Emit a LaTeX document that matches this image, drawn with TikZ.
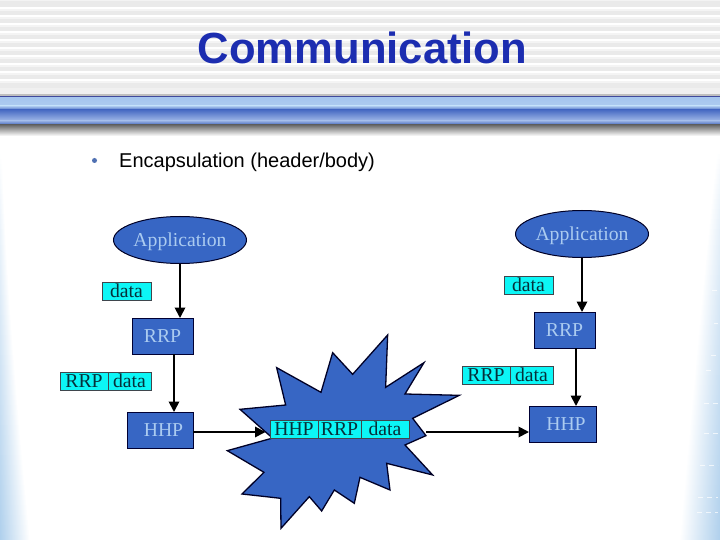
\documentclass[tikz,border=0pt]{standalone}
\usepackage{fontspec}
\setmainfont{Liberation Serif}
\newfontfamily\dgsans{Liberation Sans}
\usetikzlibrary{shapes.geometric,arrows.meta}
\definecolor{titleblue}{HTML}{1C2DB0}
\definecolor{nodeblue}{HTML}{3766C4}
\definecolor{nodetext}{HTML}{ABCBF0}
\definecolor{cellcyan}{HTML}{0CF6F6}
\definecolor{celltext}{HTML}{06303A}
\definecolor{sideblue}{HTML}{AECFEC}
\definecolor{stripe}{HTML}{EAEAEA}
\definecolor{barline}{HTML}{404A9C}
\definecolor{barlight}{HTML}{A6C6EE}
\definecolor{barpale}{HTML}{ADCBF0}
\definecolor{barmid}{HTML}{496CC4}
\definecolor{barsoft}{HTML}{9DB6E6}
\definecolor{bardeep}{HTML}{4265BA}
\definecolor{barshade}{HTML}{6A6A6A}
\definecolor{bulletblue}{HTML}{4F70B2}
\tikzset{
  appnode/.style={ellipse,draw=black!85!blue,line width=1pt,fill=nodeblue,text=nodetext,font=\fontsize{19.7}{22}\selectfont,inner sep=0pt,outer sep=0pt,minimum width=133pt,minimum height=47pt,text height=13pt,text depth=0pt},
  layerbox/.style={rectangle,draw=black!80!blue,line width=0.8pt,fill=nodeblue,text=nodetext,font=\fontsize{19.7}{22}\selectfont,inner sep=0pt,outer sep=0pt,minimum height=36pt},
  cell/.style={rectangle,draw=black!80!cyan,line width=0.6pt,fill=cellcyan,text=celltext,font=\fontsize{19.7}{22}\selectfont,inner sep=0pt,outer sep=0pt,minimum height=18pt,text height=13pt,text depth=0.5pt},
  flow/.style={draw=black,line width=1.8pt,-{Triangle[length=10.5pt,width=10.5pt]}},
}
\begin{document}
\begin{tikzpicture}[x=1pt,y=-1pt]
\useasboundingbox (0,0) rectangle (720,540);
\fill[white] (0,0) rectangle (720,540);
% side glow
\foreach \yy in {150,155,...,540}{
  \pgfmathsetmacro{\tv}{(\yy-150)/390}
  \pgfmathsetmacro{\wl}{2+28*\tv^1.4}
  \pgfmathsetmacro{\wr}{3+38*\tv^0.9}
  \pgfmathtruncatemacro{\ml}{100*\tv^0.9}
  \pgfmathtruncatemacro{\mr}{100*\tv^0.7}
  \shade[left color=sideblue!\ml!white,right color=white] (0,\yy) rectangle (\wl,\yy+6);
  \shade[left color=white,right color=sideblue!\mr!white] (720-\wr,\yy) rectangle (720,\yy+6);
}
\foreach \yy/\xa/\xb in {290/712/718,323/714/718,355/711/716,370/706/714,403/704/718,433/704/718,465/700/718,497/698/718,512/697/718}{
  \draw[white,opacity=0.7,line width=0.5pt,dash pattern=on 5pt off 4pt] (\xa,\yy) -- (\xb,\yy);
}
% header stripes
\fill[stripe] (0,0) rectangle (720,94);
\foreach \yy in {8,16,...,80}{
  \fill[white] (0,\yy-0.5) rectangle (720,\yy+0.7);
  \fill[stripe!55!white] (0,\yy+0.7) rectangle (720,\yy+3);
}
\fill[stripe!60!white] (0,0) rectangle (720,1);
\fill[stripe!70!white] (0,88) rectangle (720,94);
% blue bar
\fill[black!25] (0,94) rectangle (720,96);
\fill[barline] (0,95.8) rectangle (720,97.6);
\shade[top color=barlight,bottom color=barpale] (0,97.5) rectangle (720,106);
\shade[top color=barpale,bottom color=barmid] (0,106) rectangle (720,110);
\shade[top color=barmid,bottom color=barsoft] (0,110) rectangle (720,120.5);
\shade[top color=barsoft,bottom color=bardeep] (0,120.5) rectangle (720,125);
\shade[top color=barshade,bottom color=white] (0,125) rectangle (720,136);
% title and bullet
\node[font=\dgsans\bfseries\fontsize{43.6}{48}\selectfont,text=titleblue,anchor=base,inner sep=0pt] (title) at (362.5,64) {Communication};
\node[circle,fill=bulletblue,inner sep=0pt,minimum size=5pt] (bullet) at (94.5,160.5) {};
\node[font=\dgsans\fontsize{20}{24}\selectfont,text=black,anchor=base west,inner sep=0pt] (body) at (119,168) {Encapsulation (header/body)};
% connector into and out of the cloud
\coordinate (cloudin) at (265.5,432);
\coordinate (cloudout) at (426,432);
% left stack
\node[layerbox,minimum width=66pt] (hhpL) at (160,430) {\hspace*{7pt}HHP};
\draw[flow] (hhpL.east |- cloudin) -- (cloudin);
% cloud
\begin{scope}[shift={(220,320)},x=0.3333pt,y=-0.3333pt]
\draw[draw=black!85!blue,line width=1.3pt,fill=nodeblue,line join=miter]
 (503,45)--(497,202)--(612,128)--(555,222)--(718,226)--(578,295)--(618,347)--(555,375)--(638,465)--(500,430)--(510,510)--(420,472)--(403,550)--(343,510)--(305,573)--(268,530)--(183,625)--(182,535)--(66,522)--(132,457)--(22,392)--(155,355)--(155,352)--(60,268)--(197,255)--(170,143)--(303,217)--(338,98)--(398,163)--cycle;
\end{scope}
\node[appnode] (appL) at (180,240) {Application};
\node[layerbox,minimum width=61pt] (rrpL) at (162.5,336) {RRP};
\node[cell,minimum width=49pt] (dataL) at (126.5,291) {data};
\node[cell,minimum width=48pt] (hdrL) at (84,381) {RRP};
\node[cell,minimum width=43pt] (bodyL) at (129.5,381) {data};
\draw[flow] (appL.south) -- (appL.south |- rrpL.north);
\draw[flow] ([xshift=11.5pt]rrpL.south) -- ([xshift=14pt]hhpL.north);
% cloud label
\node[cell,minimum width=48pt] (hhpC) at (294,429) {HHP};
\node[cell,minimum width=43pt] (rrpC) at (339.5,429) {RRP};
\node[cell,minimum width=48pt] (dataC) at (385,429) {data};
% right stack
\node[appnode] (appR) at (582,234) {Application};
\node[layerbox,minimum width=61pt] (rrpR) at (564.5,330) {RRP};
\node[layerbox,minimum width=67pt] (hhpR) at (562.5,424) {\hspace*{7pt}HHP};
\node[cell,minimum width=49pt] (dataR) at (528.5,285.5) {data};
\node[cell,minimum width=48pt] (hdrR) at (486,375) {RRP};
\node[cell,minimum width=43pt] (bodyR) at (531.5,375) {data};
\draw[flow] (appR.south) -- (appR.south |- rrpR.north);
\draw[flow] ([xshift=11.5pt]rrpR.south) -- ([xshift=13.5pt]hhpR.north);
\draw[flow] (cloudout) -- (hhpR.west |- cloudout);
\end{tikzpicture}
\end{document}
